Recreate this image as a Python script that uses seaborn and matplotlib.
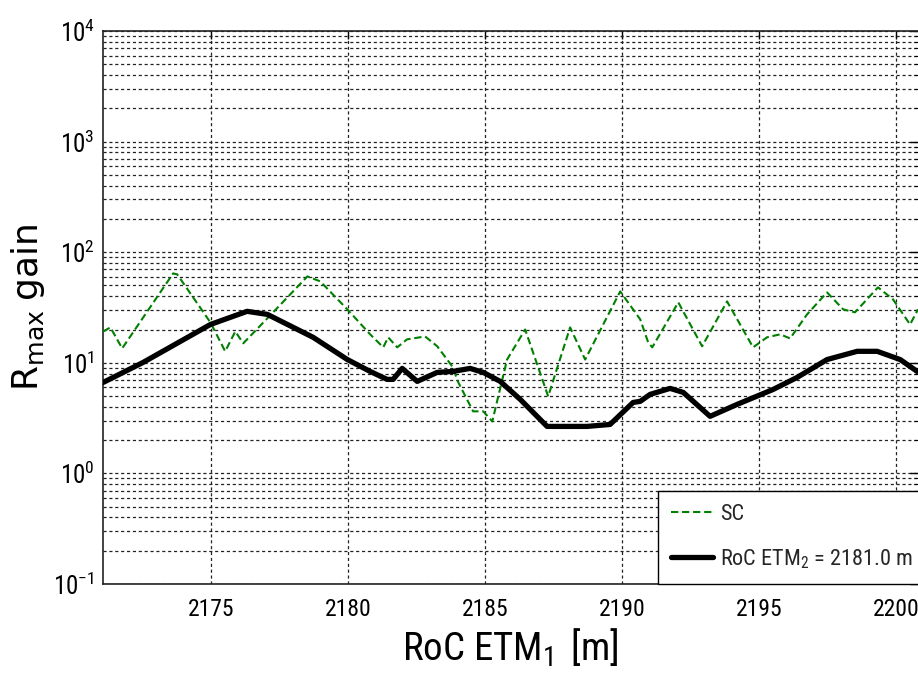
import numpy as np
import pandas as pd
import matplotlib
matplotlib.use("Agg")
import matplotlib.pyplot as plt
from matplotlib.ticker import LogLocator, FixedLocator, FuncFormatter, NullFormatter
import seaborn as sns

# RoC of ETM1 [m] and max gain for the SC configuration
sc_roc = [2171.06, 2171.32, 2171.75, 2173.61, 2173.76, 2174.97, 2175.51, 2175.88,
          2176.17, 2177.26, 2178.51, 2178.98, 2179.97, 2180.80, 2181.28, 2181.46,
          2181.79, 2182.15, 2182.81, 2183.25, 2183.80, 2184.02, 2184.56, 2184.93,
          2185.26, 2185.80, 2186.46, 2187.30, 2188.10, 2188.65, 2189.93, 2190.66,
          2190.95, 2191.10, 2192.05, 2192.92, 2193.83, 2194.78, 2195.29, 2195.77,
          2196.13, 2196.75, 2197.48, 2198.07, 2198.50, 2199.34, 2199.89, 2200.51,
          2200.80]
sc_gain = [19.2, 20.9, 13.5, 64.3, 63.0, 23.2, 12.7, 19.2,
           15.0, 28.6, 60.4, 54.5, 30.4, 18.1, 13.8, 17.0,
           13.8, 16.3, 17.3, 14.1, 9.27, 6.65, 3.64, 3.64,
           2.95, 10.7, 20.0, 4.97, 20.9, 10.7, 44.2, 24.7,
           15.3, 13.8, 35.2, 14.1, 35.9, 13.8, 17.0, 18.1,
           16.6, 27.4, 43.3, 30.4, 28.6, 48.1, 37.4, 22.2,
           30.4]

# Max gain with RoC ETM2 fixed at 2181.0 m
etm2_roc = [2171.06, 2172.52, 2174.97, 2176.31, 2177.05, 2178.72, 2179.97, 2180.80,
            2181.42, 2181.64, 2181.97, 2182.52, 2183.25, 2183.83, 2184.45, 2184.93,
            2185.55, 2186.28, 2187.26, 2188.72, 2189.56, 2190.40, 2190.66, 2191.02,
            2191.75, 2192.23, 2193.21, 2194.20, 2195.51, 2196.39, 2197.48, 2198.58,
            2199.31, 2200.15, 2200.77]
etm2_gain = [6.65, 10.1, 22.2, 29.2, 27.4, 17.0, 10.7, 8.36,
             7.08, 7.08, 8.90, 6.79, 8.19, 8.36, 8.90, 8.19,
             6.79, 4.67, 2.66, 2.66, 2.77, 4.38, 4.48, 5.18,
             5.87, 5.40, 3.28, 4.21, 5.74, 7.38, 10.7, 12.7,
             12.7, 10.7, 8.36]

x_ticks = [2175, 2180, 2185, 2190, 2195, 2200]
sc_label = "SC"
etm2_label = r"RoC ETM$_2$ = 2181.0 m"
x_label = r"RoC ETM$_1$ $\,$[m]"
y_label = r"$\mathsf{R_{max}\ gain}$"

sns.set_theme(style="white")
narrow = ["Roboto Condensed", "Archivo Narrow", "Liberation Sans", "DejaVu Sans"]
plt.rcParams["font.family"] = narrow
plt.rcParams["mathtext.fontset"] = "custom"
plt.rcParams["mathtext.rm"] = "Roboto Condensed"
plt.rcParams["mathtext.it"] = "Roboto Condensed"
plt.rcParams["mathtext.bf"] = "Roboto Condensed"
plt.rcParams["mathtext.sf"] = "DejaVu Sans"

fig = plt.figure(figsize=(9.18, 6.87), dpi=100)
ax = fig.add_axes([103 / 918, 103 / 687, (918 - 103) / 918, (584 - 31) / 687])

df_sc = pd.DataFrame({"roc": sc_roc, "gain": sc_gain})
df_e2 = pd.DataFrame({"roc": etm2_roc, "gain": etm2_gain})

sns.lineplot(data=df_sc, x="roc", y="gain", ax=ax, color="#008000", lw=1.5,
             linestyle=(0, (3.5, 1.8)), label=sc_label, sort=False, estimator=None, zorder=3)
sns.lineplot(data=df_e2, x="roc", y="gain", ax=ax, color="black", lw=3.8,
             label=etm2_label, sort=False, estimator=None, zorder=4)

ax.set_yscale("log")
ax.set_ylim(0.1, 1e4)
ax.set_xlim(2171.05, 2200.8)

ax.xaxis.set_major_locator(FixedLocator(x_ticks))
ax.yaxis.set_major_locator(LogLocator(base=10, numticks=10))
ax.yaxis.set_minor_locator(LogLocator(base=10, subs=np.arange(2, 10), numticks=20))
ax.yaxis.set_major_formatter(FuncFormatter(lambda v, p: r"$10^{%d}$" % round(np.log10(v))))
ax.yaxis.set_minor_formatter(NullFormatter())

grid_kw = dict(color="#222222", lw=0.9, linestyle=(0, (2.5, 2.2)))
ax.grid(True, which="major", axis="both", **grid_kw)
ax.grid(True, which="minor", axis="y", **grid_kw)
ax.set_axisbelow(True)

ax.tick_params(axis="both", which="both", direction="in", top=True, right=True,
               labelsize=17, colors="black")
ax.tick_params(axis="x", which="major", pad=10)
ax.tick_params(axis="y", which="major", pad=6, labelsize=18)
ax.tick_params(axis="both", which="major", length=6, width=1)
ax.tick_params(axis="y", which="minor", length=3, width=0.8)

for side in ["left", "bottom", "top"]:
    ax.spines[side].set_color("#222222")
    ax.spines[side].set_linewidth(1.2)
ax.spines["right"].set_visible(False)

ax.set_xlabel(x_label, fontsize=28, labelpad=4, color="black")
ax.set_ylabel(y_label, fontsize=26, labelpad=5, color="black")

leg = ax.legend(loc="lower right", bbox_to_anchor=(1.01, 0.0), fontsize=16,
                frameon=True, fancybox=False, framealpha=1, edgecolor="black",
                borderpad=0.6, handlelength=1.9, handletextpad=0.3, labelspacing=1.0,
                borderaxespad=0)
leg.get_frame().set_linewidth(1.0)

fig.savefig("out.png", dpi=100, facecolor="white")
